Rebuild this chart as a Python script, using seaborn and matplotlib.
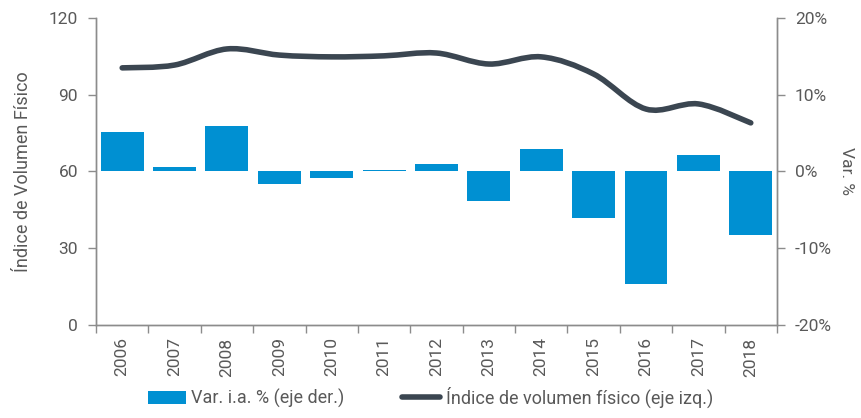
import numpy as np
import pandas as pd
import matplotlib
matplotlib.use("Agg")
import matplotlib.pyplot as plt
from matplotlib.path import Path
from matplotlib.patches import PathPatch, Patch
from matplotlib.lines import Line2D
import seaborn as sns

# data
years = ["2006", "2007", "2008", "2009", "2010", "2011", "2012",
         "2013", "2014", "2015", "2016", "2017", "2018"]
var_ia = [5.2, 0.6, 5.9, -1.6, -0.9, 0.2, 1.0, -3.9, 2.9, -6.0, -14.6, 2.2, -8.3]
indice = [100.5, 101.6, 107.9, 105.5, 104.8, 105.2, 106.3, 102.0, 104.8, 98.1, 84.4, 86.4, 79.0]

bar_color = "#0090d2"
line_color = "#3b4651"
text_color = "#595959"
spine_color = "#8c8c8c"
fs = 12.5

sns.set_theme(style="white")
plt.rcParams['font.family'] = ['Roboto', 'DejaVu Sans']

df = pd.DataFrame({"year": years, "var": var_ia, "indice": indice})

fig = plt.figure(figsize=(8.61, 4.18), dpi=100)
ax = fig.add_axes([0.1115, 0.2225, 0.7909, 0.7345])
ax2 = ax.twinx()

# bars on right axis
sns.barplot(data=df, x="year", y="var", ax=ax2, color=bar_color,
            width=0.82, saturation=1, linewidth=0)
ax2.set_ylim(-20, 20)
ax2.set_yticks([-20, -10, 0, 10, 20])
ax2.set_yticklabels([f"{v}%" for v in [-20, -10, 0, 10, 20]])
ax2.set_ylabel("Var. %", rotation=270, labelpad=16, color=text_color, fontsize=fs)

# smooth line on left axis (Catmull-Rom as cubic bezier)
x = np.arange(len(indice), dtype=float)
y = np.array(indice)
verts = [(x[0], y[0])]
codes = [Path.MOVETO]
t = 1 / 6
for i in range(len(x) - 1):
    p0 = (x[max(i - 1, 0)], y[max(i - 1, 0)])
    p1 = (x[i], y[i])
    p2 = (x[i + 1], y[i + 1])
    p3 = (x[min(i + 2, len(x) - 1)], y[min(i + 2, len(x) - 1)])
    c1 = (p1[0] + (p2[0] - p0[0]) * t, p1[1] + (p2[1] - p0[1]) * t)
    c2 = (p2[0] - (p3[0] - p1[0]) * t, p2[1] - (p3[1] - p1[1]) * t)
    verts += [c1, c2, p2]
    codes += [Path.CURVE4] * 3
ax.add_patch(PathPatch(Path(verts, codes), fill=False, edgecolor=line_color,
                       lw=4, capstyle="round", joinstyle="round"))
ax.set_ylim(0, 120)
ax.set_yticks([0, 30, 60, 90, 120])
ax.set_ylabel("Índice de Volumen Físico", color=text_color, fontsize=fs + 0.5, labelpad=12)

ax.set_zorder(ax2.get_zorder() + 1)
ax.patch.set_visible(False)

for a in (ax, ax2):
    a.set_xlim(-0.5, len(years) - 0.5)
    for s in a.spines.values():
        s.set_color(spine_color)
        s.set_linewidth(1)
    a.spines["top"].set_visible(False)
    a.tick_params(axis="y", colors=text_color, labelsize=fs, length=6,
                  width=1, color=spine_color, pad=7)
    a.set_xlabel("")

ax.set_xticks(np.arange(len(years)))
ax.set_xticklabels(years, rotation=90)
ax.set_xticks(np.arange(-0.5, len(years)), minor=True)
ax.tick_params(axis="x", which="major", length=0, colors=text_color,
               labelsize=fs, pad=9)
ax.tick_params(axis="x", which="minor", length=6, width=1, color=spine_color,
               bottom=True)
ax2.tick_params(axis="x", which="both", length=0, labelbottom=False)

handles = [Patch(facecolor=bar_color, edgecolor="none"),
           Line2D([0], [0], color=line_color, lw=4, solid_capstyle="round")]
fig.legend(handles, ["Var. i.a. % (eje der.)", "Índice de volumen físico (eje izq.)"],
           loc="lower center", bbox_to_anchor=(0.5, -0.015), ncol=2, frameon=False,
           fontsize=fs + 0.5, labelcolor=text_color, handlelength=2.1,
           handleheight=0.8, handletextpad=0.3, columnspacing=3.2)

fig.savefig("out.png", dpi=100)
